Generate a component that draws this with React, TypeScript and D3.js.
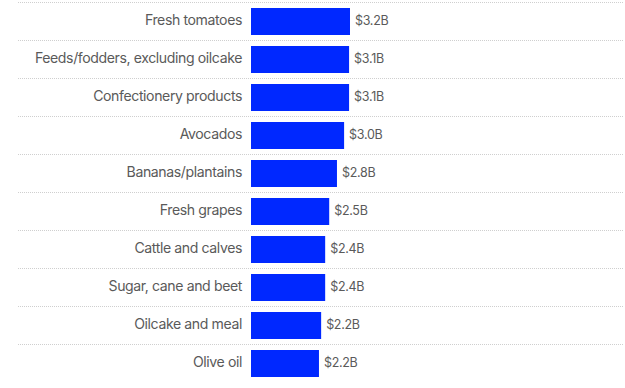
import { useMemo } from "react";
import * as d3 from "d3";

const categories = [
  "Fresh tomatoes",
  "Feeds/fodders, excluding oilcake",
  "Confectionery products",
  "Avocados",
  "Bananas/plantains",
  "Fresh grapes",
  "Cattle and calves",
  "Sugar, cane and beet",
  "Oilcake and meal",
  "Olive oil",
];

const values = [3.19, 3.16, 3.16, 3.0, 2.77, 2.52, 2.39, 2.39, 2.26, 2.19];

const valueLabels = ["$3.2B", "$3.1B", "$3.1B", "$3.0B", "$2.8B", "$2.5B", "$2.4B", "$2.4B", "$2.2B", "$2.2B"];

const width = 625;
const height = 388;
const barLeft = 251;
const font = "Inter, 'Noto Sans', sans-serif";

export default function App() {
  const y = useMemo(
    () =>
      d3
        .scaleBand<string>()
        .domain(categories)
        .range([8, 377])
        .paddingInner(11 / 38)
        .paddingOuter(0),
    []
  );
  const x = useMemo(() => d3.scaleLinear().domain([0, 3.19]).range([barLeft, 350]), []);

  return (
    <div style={{ position: "fixed", left: 0, top: 0, background: "#fff" }}>
      <svg width={width} height={height} style={{ display: "block" }}>
        {categories.map((c, i) => {
          const top = y(c) ?? 0;
          const cy = top + y.bandwidth() / 2;
          return (
            <g key={c}>
              <line
                x1={18}
                x2={623}
                y1={top - 5.5}
                y2={top - 5.5}
                stroke="#cfcfcf"
                strokeWidth={1}
                strokeDasharray="1,1"
              />
              <text
                x={242}
                y={cy - 1}
                dy="0.35em"
                textAnchor="end"
                fontFamily={font}
                fontSize={14.1}
                letterSpacing={-0.4}
                fill="#5a5a5a"
              >
                {c}
              </text>
              <rect x={barLeft} y={top} width={x(values[i]) - barLeft} height={y.bandwidth()} fill="#0028ff" />
              <text
                x={x(values[i]) + 5}
                y={cy - 1}
                dy="0.35em"
                fontFamily={font}
                fontSize={12.5}
                letterSpacing={-0.3}
                fill="#5a5a5a"
              >
                {valueLabels[i]}
              </text>
            </g>
          );
        })}
      </svg>
    </div>
  );
}
